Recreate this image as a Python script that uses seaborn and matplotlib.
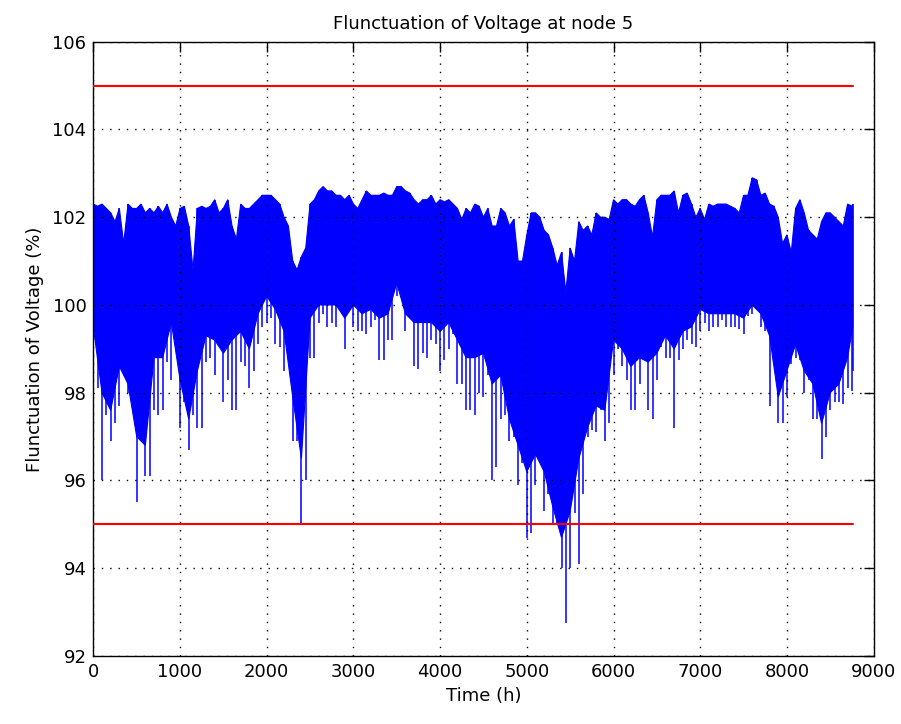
import matplotlib
matplotlib.use("Agg")
import matplotlib.pyplot as plt
import seaborn as sns
import numpy as np

# sample times (h) and voltage envelope
hours = list(range(0, 8800, 100)) + [8760]
half_hours = list(range(50, 8800, 100))

# top of the blue band at each sample
upper = [102.3, 102.3, 102.1, 102.2, 102.3, 102.2, 102.1, 102.1, 102.1, 102.0,
         102.2, 101.8, 102.2, 102.2, 102.4, 102.2, 101.8, 102.3, 102.2, 102.4,
         102.5, 102.4, 102.0, 101.0, 101.1, 102.3, 102.6, 102.6, 102.5, 102.4,
         102.3, 102.4, 102.5, 102.5, 102.5, 102.7, 102.6, 102.4, 102.4, 102.5,
         102.4, 102.4, 102.2, 102.2, 102.3, 102.0, 101.8, 102.2, 101.8, 101.0,
         101.6, 102.1, 101.7, 101.3, 101.2, 101.3, 101.9, 101.8, 102.1, 102.0,
         102.4, 102.4, 102.3, 102.4, 102.1, 102.4, 102.5, 102.6, 102.5, 102.3,
         102.2, 102.3, 102.3, 102.3, 102.2, 102.5, 102.9, 102.5, 102.3, 102.0,
         101.6, 102.2, 102.1, 101.6, 101.9, 102.1, 101.9, 102.3, 102.3]

# bottom of the solid part of the band
core = [99.5, 98.0, 97.6, 98.6, 98.2, 97.0, 96.8, 98.8, 98.8, 99.6,
        98.3, 97.4, 98.5, 99.3, 99.2, 98.9, 99.2, 99.4, 99.0, 99.8,
        100.2, 99.9, 99.4, 97.9, 96.5, 99.7, 100.0, 100.0, 100.0, 99.7,
        100.0, 99.8, 99.9, 99.7, 99.8, 100.5, 99.8, 99.6, 99.6, 99.6,
        99.4, 99.6, 99.2, 98.8, 98.8, 98.9, 98.2, 98.4, 97.4, 96.8,
        96.2, 96.6, 96.2, 95.4, 94.7, 95.3, 96.5, 97.2, 97.7, 97.6,
        99.2, 99.0, 98.6, 98.8, 98.7, 98.9, 99.3, 99.0, 99.4, 99.5,
        99.9, 99.8, 99.8, 99.8, 99.8, 99.7, 100.0, 99.8, 99.3, 97.9,
        98.5, 99.1, 98.5, 98.2, 97.3, 98.0, 98.2, 98.8, 99.5]

# deepest dip near each sample
spike = [97.7, 96.0, 96.9, 97.7, 98.0, 95.5, 96.1, 97.6, 97.6, 98.3,
         97.2, 96.7, 97.2, 98.7, 98.4, 97.8, 97.6, 98.7, 98.1, 99.1,
         99.6, 99.1, 98.5, 96.9, 95.0, 98.8, 99.6, 99.5, 99.5, 99.0,
         99.5, 99.4, 99.5, 98.75, 99.2, 100.2, 99.4, 98.6, 98.9, 99.2,
         98.5, 99.0, 98.2, 97.6, 97.5, 97.9, 96.0, 97.4, 96.9, 95.9,
         94.7, 95.9, 95.3, 95.0, 94.0, 94.0, 94.1, 97.0, 97.1, 96.9,
         98.4, 98.6, 97.6, 98.2, 97.6, 98.3, 98.8, 97.2, 99.0, 99.1,
         99.4, 99.4, 99.5, 99.5, 99.5, 99.35, 99.8, 99.5, 97.7, 97.3,
         97.9, 98.8, 98.0, 97.4, 96.5, 97.6, 97.8, 98.1, 98.5]

# top and bottom between samples (t = 50, 150, ...)
mid_high = [102.25, 102.2, 101.9, 101.4, 102.2, 102.3, 102.2, 102.25, 102.3, 101.8,
            102.25, 100.8, 102.25, 102.25, 102.1, 102.4, 101.5, 102.2, 102.3, 102.5,
            102.5, 102.3, 101.8, 100.8, 101.3, 102.4, 102.7, 102.6, 102.5, 102.5,
            102.2, 102.6, 102.5, 102.55, 102.5, 102.7, 102.55, 102.3, 102.4, 102.3,
            102.35, 102.3, 101.95, 102.1, 102.25, 102.2, 101.8, 102.1, 101.95, 101.0,
            102.1, 102.0, 101.6, 100.9, 100.3, 101.0, 101.7, 101.6, 102.0, 101.95,
            102.3, 102.4, 102.25, 102.5, 101.55, 102.5, 102.5, 102.1, 102.55, 102.0,
            101.95, 102.25, 102.3, 102.25, 102.1, 102.5, 102.85, 102.55, 102.25, 101.4,
            101.2, 102.4, 101.7, 101.5, 102.1, 102.0, 101.8, 102.25]

mid_low = [98.1, 97.5, 97.3, 98.4, 98.3, 97.2, 96.1, 97.5, 98.7, 99.5,
           97.8, 97.5, 97.2, 98.8, 99.4, 98.3, 97.6, 98.6, 98.5, 99.5,
           99.7, 99.05, 99.5, 96.9, 96.0, 98.8, 99.8, 99.6, 100.0, 99.95,
           99.4, 99.35, 99.65, 98.75, 99.2, 100.6, 99.7, 98.55, 98.8, 99.1,
           98.75, 99.35, 98.2, 97.6, 98.0, 98.4, 96.3, 97.5, 97.0, 96.4,
           94.8, 96.5, 95.7, 95.0, 92.75, 95.25, 95.7, 97.15, 97.6, 97.3,
           99.0, 98.3, 97.6, 98.75, 97.4, 99.05, 98.8, 98.75, 99.2, 99.05,
           99.6, 99.5, 99.65, 99.5, 99.45, 99.75, 99.95, 99.4, 98.75, 97.3,
           98.65, 98.75, 98.3, 97.4, 97.0, 97.8, 97.75, 98.05]

limit_hours = [0, 8760]
upper_limit = [105, 105]
lower_limit = [95, 95]

sns.set_style("white")
plt.rcParams['font.family'] = ['DejaVu Sans']
plt.rcParams['text.color'] = 'black'
plt.rcParams['axes.labelcolor'] = 'black'

fig = plt.figure(figsize=(9.01, 7.24), dpi=100)
ax = fig.add_axes([0.1036, 0.0939, 0.866, 0.8485])

# solid band: top follows samples and half-samples, bottom the core level
top_x, top_y = [], []
for i in range(len(half_hours)):
    top_x += [hours[i], half_hours[i]]
    top_y += [upper[i], mid_high[i]]
top_x.append(hours[-1])
top_y.append(upper[-1])
poly_x = top_x + hours[::-1]
poly_y = top_y + core[::-1]
ax.fill(poly_x, poly_y, color='blue', lw=0.8, zorder=2)

# downward spikes
ax.vlines(hours, spike, upper, color='blue', lw=1.1, zorder=2)
ax.vlines(half_hours, mid_low, mid_high, color='blue', lw=1.1, zorder=2)

# limits
sns.lineplot(x=limit_hours, y=upper_limit, color='red', lw=1.5, ax=ax, zorder=3)
sns.lineplot(x=limit_hours, y=lower_limit, color='red', lw=1.5, ax=ax, zorder=3)

ax.set_xlim(0, 9000)
ax.set_ylim(92, 106)
ax.set_xticks(range(0, 9001, 1000))
ax.set_yticks(range(92, 107, 2))
ax.grid(True, linestyle=(0, (1, 5)), color='black', lw=1.0, zorder=4)
ax.set_axisbelow(False)
ax.tick_params(direction='in', length=7, width=1, top=True, right=True,
               labelsize=13, pad=5, colors='black')
for s in ax.spines.values():
    s.set_color('black')
    s.set_linewidth(1.0)

ax.set_title("Flunctuation of Voltage at node 5", fontsize=13, pad=9, color='black')
ax.set_xlabel("Time (h)", fontsize=13, labelpad=4, color='black')
ax.set_ylabel("Flunctuation of Voltage (%)", fontsize=13, labelpad=6, color='black')

fig.savefig("out.png", dpi=100)
